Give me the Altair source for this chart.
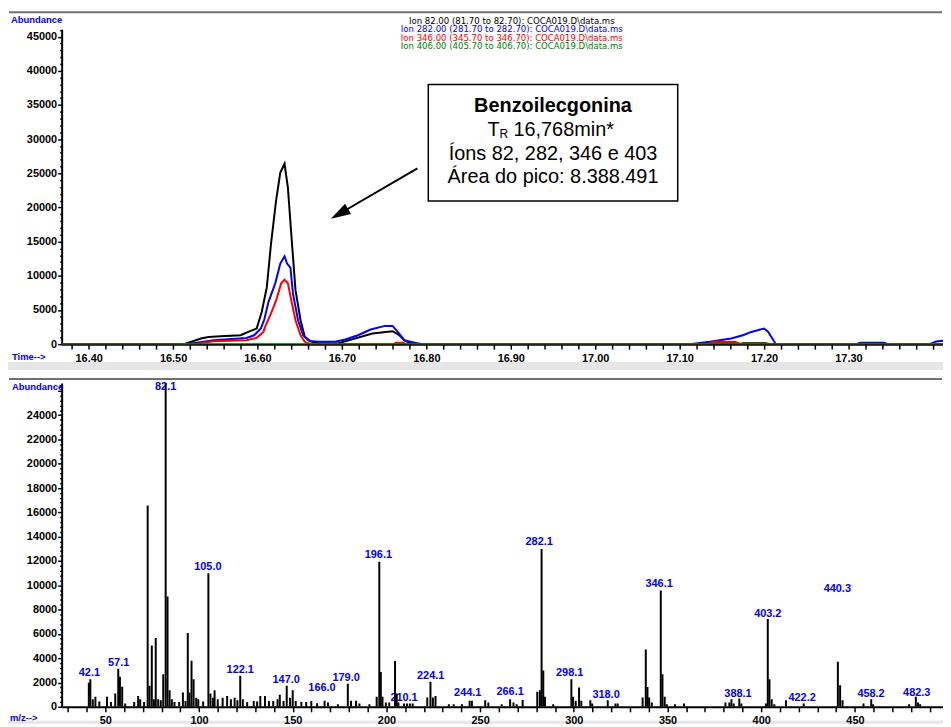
import altair as alt
import pandas as pd

# ------------------------------------------------------------------
# Data
# ------------------------------------------------------------------
ion_names = ["Ion 82", "Ion 282", "Ion 346", "Ion 406"]
ion_colors = ["#000000", "#0000ff", "#ff0000", "#008000"]
header_lines = [
    "Ion  82.00 (81.70 to 82.70): COCA019.D\\data.ms",
    "Ion 282.00 (281.70 to 282.70): COCA019.D\\data.ms",
    "Ion 346.00 (345.70 to 346.70): COCA019.D\\data.ms",
    "Ion 406.00 (405.70 to 406.70): COCA019.D\\data.ms",
]

ion82_time = [16.368, 16.513, 16.533, 16.542, 16.556, 16.580, 16.589, 16.599, 16.605, 16.611,
              16.616, 16.622, 16.627, 16.632, 16.636, 16.640, 16.645, 16.651, 16.656, 16.662,
              16.672, 16.695, 16.713, 16.736, 16.760, 16.768, 16.775, 16.787, 17.171, 17.175,
              17.202, 17.207, 17.412]
ion82_abund = [0, 0, 830, 1060, 1160, 1310, 1790, 2300, 4700, 8300,
               14700, 21000, 25100, 26400, 22900, 16100, 7900, 3500, 1060, 400,
               150, 100, 730, 1550, 1890, 1310, 440, 0, 0, 150,
               150, 0, 0]

ion282_time = [16.368, 16.516, 16.548, 16.587, 16.596, 16.604, 16.608, 16.613, 16.621, 16.627,
               16.632, 16.635, 16.639, 16.642, 16.648, 16.654, 16.662, 16.672, 16.692, 16.704,
               16.719, 16.734, 16.751, 16.760, 16.766, 16.774, 16.781, 16.789, 16.796, 17.112,
               17.136, 17.161, 17.175, 17.185, 17.200, 17.205, 17.214, 17.309, 17.314, 17.342,
               17.347, 17.396, 17.404, 17.412]
ion282_abund = [0, 0, 580, 900, 1300, 2300, 3600, 6200, 8900, 11800,
                12860, 11800, 11200, 7400, 3500, 1300, 480, 340, 340, 680,
                1310, 2140, 2670, 2670, 1790, 580, 340, 150, 0, 0,
                340, 830, 1310, 1790, 2280, 1790, 0, 0, 200, 200,
                0, 0, 400, 500]

ion346_time = [16.368, 16.525, 16.548, 16.587, 16.599, 16.607, 16.609, 16.616, 16.622, 16.628,
               16.632, 16.636, 16.640, 16.645, 16.651, 16.656, 16.662, 16.761, 16.764, 16.773,
               16.775, 17.133, 17.140, 17.166, 17.173, 17.412]
ion346_abund = [0, 0, 440, 580, 920, 1790, 2520, 4500, 6400, 8900,
                9420, 8900, 6400, 3500, 1300, 340, 0, 0, 200, 200,
                0, 0, 300, 300, 0, 0]

ion406_time = [16.368, 17.412]
ion406_abund = [0, 0]

time_tick_labels = ["16.40", "16.50", "16.60", "16.70", "16.80", "16.90",
                    "17.00", "17.10", "17.20", "17.30"]

# Mass spectrum
spec_mz = [41.2, 42.0, 43.3, 44.7, 46.8, 50.9, 53.0, 55.3, 56.9, 57.8, 59.0, 60.6, 65.4, 67.5,
           68.6, 70.7, 72.6, 73.6, 74.8, 75.9, 76.9, 78.2, 79.6, 80.9, 82.2, 83.2, 84.3, 85.5,
           86.9, 89.4, 91.4, 92.8, 94.0, 94.9, 96.0, 97.1, 98.5, 99.6, 102.2, 105.0, 106.1,
           107.4, 108.3, 110.0, 112.6, 115.0, 117.0, 119.0, 120.5, 122.0, 123.4, 125.7, 129.2,
           131.0, 132.7, 135.2, 137.3, 139.6, 141.9, 143.1, 145.1, 146.8, 148.6, 150.0, 151.6,
           154.6, 157.2, 159.9, 163.0, 167.0, 168.8, 174.1, 179.4, 181.1, 183.8, 185.6, 190.9,
           194.8, 196.2, 197.0, 197.9, 199.7, 201.5, 204.6, 205.5, 206.4, 209.4, 211.0, 212.5,
           214.0, 221.8, 223.5, 224.8, 226.2, 233.3, 235.9, 240.3, 244.4, 245.6, 252.7, 254.4,
           261.5, 266.0, 267.8, 269.5, 272.7, 280.5, 281.9, 282.8, 283.7, 284.6, 289.0, 298.7,
           299.6, 301.0, 302.8, 304.0, 308.8, 309.8, 318.1, 322.2, 323.4, 336.7, 338.4, 339.3,
           340.2, 341.6, 346.4, 347.3, 348.5, 349.6, 354.0, 358.8, 380.9, 383.0, 384.1, 385.3,
           388.3, 389.4, 402.5, 403.5, 404.4, 405.6, 407.0, 413.2, 422.7, 440.9, 442.1, 443.4,
           454.6, 458.7, 459.7, 478.9, 482.5, 483.7, 484.8]
spec_abund = [1990, 2260, 620, 820, 430, 820, 390, 1090, 3130, 2480, 1660, 270, 390, 900,
              620, 390, 16570, 1740, 5040, 620, 5670, 620, 550, 2670, 26650, 9080, 1360, 620,
              390, 390, 1170, 480, 6080, 1170, 3790, 2260, 750, 620, 430, 10990, 1090,
              750, 1360, 620, 750, 900, 620, 750, 550, 2560, 620, 390, 480,
              430, 900, 900, 480, 480, 620, 1000, 480, 1740, 750, 1360, 480,
              390, 390, 480, 300, 490, 360, 220, 1900, 490, 490, 270, 220,
              820, 11940, 2860, 820, 360, 360, 3760, 1090, 360, 270, 270, 270,
              270, 760, 2070, 760, 900, 220, 220, 220, 490, 490, 550, 360,
              220, 620, 360, 220, 570, 1250, 1360, 12980, 2990, 820, 220, 2260,
              820, 490, 1580, 490, 550, 270, 550, 270, 270, 760, 4710, 1640,
              760, 350, 9570, 2670, 820, 220, 220, 270, 350, 350, 630, 270,
              690, 270, 270, 7220, 2260, 630, 220, 545, 270, 3700, 1770, 545,
              270, 630, 220, 220, 820, 350, 220]

label_text = ["42.1", "57.1", "82.1", "105.0", "122.1", "147.0", "166.0", "179.0", "196.1",
              "210.1", "224.1", "244.1", "266.1", "282.1", "298.1", "318.0", "346.1", "388.1",
              "403.2", "422.2", "440.3", "458.2", "482.3"]
label_mz = [41.5, 57.1, 82.2, 104.7, 122.0, 146.5, 165.6, 178.5, 195.7, 209.4, 223.6, 243.4,
            266.0, 281.5, 297.8, 317.2, 345.5, 387.6, 403.5, 421.8, 440.6, 458.6, 483.0]
label_abund = [2806, 3624, 26280, 11477, 2994, 2233, 1579, 2397, 12483, 761, 2560, 1112,
               1252, 13522, 2748, 949, 10110, 1088, 7656, 703, 9701, 1031, 1170]

# ------------------------------------------------------------------
# Tables
# ------------------------------------------------------------------
rows = []
for name, ts, vs in zip(ion_names,
                        [ion82_time, ion282_time, ion346_time, ion406_time],
                        [ion82_abund, ion282_abund, ion346_abund, ion406_abund]):
    for t, v in zip(ts, vs):
        rows.append({"ion": name, "time": t, "abundance": v})
traces = pd.DataFrame(rows)
spectrum = pd.DataFrame({"mz": spec_mz, "abundance": spec_abund})
labels = pd.DataFrame({"mz": label_mz, "abundance": label_abund, "text": label_text})
one = pd.DataFrame({"a": [0]})

# ------------------------------------------------------------------
# Styles
# ------------------------------------------------------------------
LAB = "Liberation Sans, Arial, Helvetica, sans-serif"
SANS = "Liberation Sans, Arial, Helvetica, sans-serif"
HEAD = "DejaVu Sans, Verdana, sans-serif"
W = 887
H_TOP = 317
H_BOT = 326
BLUE = "#0000ff"
TICK_FS = 11

time_values = [round(16.38 + 0.02 * i, 2) for i in range(52)]
label_list = "[" + ",".join('"%s"' % s for s in time_tick_labels) + "]"
top_x_axis = alt.Axis(
    values=time_values,
    labelExpr="indexof(" + label_list + ", format(datum.value, '.2f')) >= 0 ? format(datum.value, '.2f') : ''",
    title=None, grid=False, tickSize=5, tickWidth=1.5, tickColor="black",
    domainColor="black", domainWidth=2, labelPadding=3, labelOverlap=False, labelFlush=False,
    labelFont=LAB, labelFontSize=TICK_FS, labelFontWeight="bold", labelColor="black",
)
top_y_axis = alt.Axis(
    values=list(range(0, 46001, 1000)), format="d",
    labelExpr="datum.value % 5000 === 0 ? datum.label : ''",
    title=None, grid=False,
    tickSize={"condition": {"test": "datum.value % 5000 === 0", "value": 4}, "value": 2},
    tickWidth=1.5, tickColor="black", domainColor="black", domainWidth=2,
    labelPadding=1, labelOverlap=False, labelFont=LAB, labelFontSize=TICK_FS,
    labelFontWeight="bold", labelColor="black",
)
bot_x_axis = alt.Axis(
    values=list(range(30, 491, 10)), format="d",
    labelExpr="datum.value % 50 === 0 ? datum.label : ''",
    title=None, grid=False, tickSize=5, tickWidth=1.5, tickColor="black",
    domainColor="black", domainWidth=2, labelPadding=3, labelOverlap=False, labelFlush=False,
    labelFont=LAB, labelFontSize=TICK_FS, labelFontWeight="bold", labelColor="black", zindex=1,
)
bot_y_axis = alt.Axis(
    values=list(range(0, 26401, 400)), format="d",
    labelExpr="datum.value % 2000 === 0 && datum.value <= 24000 ? datum.label : ''",
    title=None, grid=False,
    tickSize={"condition": {"test": "datum.value % 2000 === 0", "value": 4}, "value": 2},
    tickWidth=1.5, tickColor="black", domainColor="black", domainWidth=2,
    labelPadding=1, labelOverlap=False, labelFont=LAB, labelFontSize=TICK_FS,
    labelFontWeight="bold", labelColor="black",
)

xs_top = alt.Scale(domain=[16.368, 17.412], nice=False, zero=False)
ys_top = alt.Scale(domain=[0, 46100], nice=False)
xs_bot = alt.Scale(domain=[26.7, 497.0], nice=False, zero=False)
ys_bot = alt.Scale(domain=[0, 26650], nice=False)


def text_layer(txt, x, y, color="black", size=12, font=LAB, weight="normal",
               align="left", baseline="middle"):
    return alt.Chart(one).mark_text(
        text=txt, font=font, fontSize=size, fontWeight=weight, color=color,
        align=align, baseline=baseline,
    ).encode(x=alt.value(x), y=alt.value(y))


def hrule(y, color, width):
    return alt.Chart(one).mark_rule(color=color, strokeWidth=width).encode(
        x=alt.value(-53), x2=alt.value(W - 1), y=alt.value(y))


def band(y1, y2, color):
    return alt.Chart(one).mark_rect(color=color).encode(
        x=alt.value(-54), x2=alt.value(W), y=alt.value(y1), y2=alt.value(y2))


# ------------------------------------------------------------------
# Top panel: ion chromatograms
# ------------------------------------------------------------------
top_layers = [hrule(-17, "#707070", 2), band(335, 343, "#e6e6e6")]
for name, color in zip(ion_names, ion_colors):
    top_layers.append(
        alt.Chart(traces).transform_filter(alt.datum.ion == name)
        .mark_line(color=color, strokeWidth=2, clip=True)
        .encode(
            x=alt.X("time:Q", scale=xs_top, axis=top_x_axis),
            y=alt.Y("abundance:Q", scale=ys_top, axis=top_y_axis),
        )
    )
for i, (line, color) in enumerate(zip(header_lines, ion_colors)):
    top_layers.append(text_layer(line, 453, -8.7 + 8.7 * i, color=color, size=8.6,
                                 font=HEAD, align="center"))
top_layers += [
    text_layer("Abundance", -51, -9, color=BLUE, size=9.5, weight="bold"),
    text_layer("Time-->", -50, 330, color=BLUE, size=9.5, weight="bold"),
    # annotation box
    alt.Chart(one).mark_rect(fill="white", stroke="black", strokeWidth=1.5).encode(
        x=alt.value(369), x2=alt.value(620), y=alt.value(55.7), y2=alt.value(173)),
    text_layer("Benzoilecgonina", 494.5, 83, size=20, font=SANS, weight="bold",
               align="center", baseline="alphabetic"),
    text_layer("T", 428.7, 108, size=20, font=SANS, baseline="alphabetic"),
    text_layer("R", 440.7, 110, size=12, font=SANS, baseline="alphabetic"),
    text_layer("16,768min*", 454.7, 108, size=20, font=SANS, baseline="alphabetic"),
    text_layer("Íons 82, 282, 346 e 403", 494.5, 131.3, size=20, font=SANS,
               align="center", baseline="alphabetic"),
    text_layer("Área do pico: 8.388.491", 494.5, 154.7, size=20, font=SANS,
               align="center", baseline="alphabetic"),
    # arrow
    alt.Chart(one).mark_rule(color="black", strokeWidth=2).encode(
        x=alt.value(358), y=alt.value(140), x2=alt.value(280), y2=alt.value(185.5)),
    alt.Chart(one).mark_point(shape="M0,-1L0.6,1L-0.6,1Z", filled=True, size=400,
                              angle=240, color="black", opacity=1).encode(
        x=alt.value(279.6), y=alt.value(185.9)),
]
top = alt.layer(*top_layers).properties(width=W, height=H_TOP)

# ------------------------------------------------------------------
# Bottom panel: mass spectrum
# ------------------------------------------------------------------
bot_layers = [
    hrule(-4, "#707070", 2),
    band(340, 343, "#e6e6e6"),
    alt.Chart(labels).mark_text(font=LAB, fontSize=11, fontWeight="bold", color=BLUE,
                                align="center", baseline="middle").encode(
        x=alt.X("mz:Q", scale=xs_bot, axis=bot_x_axis),
        y=alt.Y("abundance:Q", scale=ys_bot, axis=bot_y_axis),
        text="text:N"),
    alt.Chart(spectrum).mark_rule(color="black", strokeWidth=2, clip=True).encode(
        x=alt.X("mz:Q", scale=xs_bot, axis=bot_x_axis),
        y=alt.Y("abundance:Q", scale=ys_bot, axis=bot_y_axis),
        y2=alt.datum(0)),
    text_layer("Abundance", -50, 3.7, color=BLUE, size=9.5, weight="bold"),
    text_layer("m/z-->", -52, 337, color=BLUE, size=9.5, weight="bold"),
]
bottom = alt.layer(*bot_layers).properties(width=W, height=H_BOT)

chart = (
    alt.vconcat(top, bottom, spacing=39, bounds="flush")
    .properties(padding={"left": 0, "top": 1, "right": 0, "bottom": 0})
    .configure_view(stroke=None)
)

chart.save("out.html", embed_options={"renderer": "svg", "actions": False})
